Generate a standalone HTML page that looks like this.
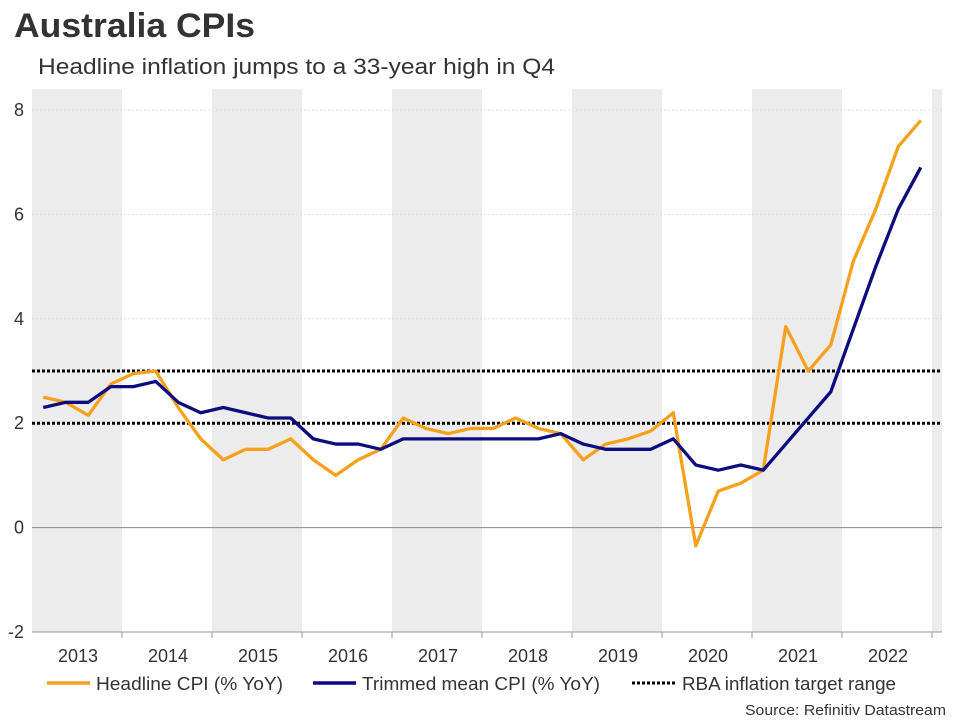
<!DOCTYPE html>
<html><head><meta charset="utf-8"><style>
body{margin:0;background:#fff;font-family:"Liberation Sans",Arial,sans-serif;}
</style></head><body>
<svg width="960" height="720" xmlns="http://www.w3.org/2000/svg" font-family="Liberation Sans, Arial, sans-serif">
<text x="14" y="37" font-size="34" font-weight="bold" fill="#333" textLength="241" lengthAdjust="spacingAndGlyphs">Australia CPIs</text>
<text x="38" y="74" font-size="22.5" fill="#333" textLength="517" lengthAdjust="spacingAndGlyphs">Headline inflation jumps to a 33-year high in Q4</text>
<g id="bands"></g><g id="grid"></g><g id="axes"></g><g id="series"></g>
<g>
<line x1="47" y1="683" x2="90" y2="683" stroke="#f7a01d" stroke-width="3.5"/>
<text x="96" y="690" font-size="18.4" fill="#333" textLength="187" lengthAdjust="spacingAndGlyphs">Headline CPI (% YoY)</text>
<line x1="313" y1="683" x2="356" y2="683" stroke="#0c0c80" stroke-width="3.5"/>
<text x="362" y="690" font-size="18.4" fill="#333" textLength="238" lengthAdjust="spacingAndGlyphs">Trimmed mean CPI (% YoY)</text>
<line x1="632" y1="683" x2="676" y2="683" stroke="#000" stroke-width="3" stroke-dasharray="3,2"/>
<text x="682" y="690" font-size="18.4" fill="#333" textLength="214" lengthAdjust="spacingAndGlyphs">RBA inflation target range</text>
</g>
<text x="745" y="715" font-size="14.5" fill="#333" textLength="201" lengthAdjust="spacingAndGlyphs">Source: Refinitiv Datastream</text>
</svg>
<script>
const years=[2013,2014,2015,2016,2017,2018,2019,2020,2021,2022];
const yTicks=[-2,0,2,4,6,8];
const headline=[2.5,2.4,2.15,2.75,2.95,3.0,2.3,1.7,1.3,1.5,1.5,1.7,1.3,1.0,1.3,1.5,2.1,1.9,1.8,1.9,1.9,2.1,1.9,1.8,1.3,1.6,1.7,1.85,2.2,-0.35,0.7,0.85,1.1,3.85,3.0,3.5,5.1,6.1,7.3,7.8];
const trimmed=[2.3,2.4,2.4,2.7,2.7,2.8,2.4,2.2,2.3,2.2,2.1,2.1,1.7,1.6,1.6,1.5,1.7,1.7,1.7,1.7,1.7,1.7,1.7,1.8,1.6,1.5,1.5,1.5,1.7,1.2,1.1,1.2,1.1,1.6,2.1,2.6,3.8,5.0,6.1,6.9];
const targets=[2,3];
const NS="http://www.w3.org/2000/svg";
const x0=32,yearW=90,xEnd=942;
const X=i=>x0+yearW/4*(i+0.5);
const Y=v=>527.6-v*52.2;
function mk(t,a,p){const e=document.createElementNS(NS,t);for(const k in a)e.setAttribute(k,a[k]);p.appendChild(e);return e;}
const bands=document.getElementById('bands'),grid=document.getElementById('grid'),axes=document.getElementById('axes'),ser=document.getElementById('series');
for(let k=0;k<=years.length;k+=2){const x=x0+k*yearW;const w=Math.min(yearW,xEnd-x);
const r=mk('rect',{x:x,y:Y(8.4),width:w,height:Y(-2)-Y(8.4),fill:'#ececec'},bands);

}
yTicks.forEach(v=>{const l=mk('line',{x1:x0,x2:xEnd,y1:Y(v),y2:Y(v),stroke:v===0?'#888':'#ddd','stroke-width':1,'stroke-dasharray':v===0?'':'2,2'},grid);


const t=mk('text',{x:24,y:Y(v)+6,'font-size':18,fill:'#333','text-anchor':'end'},axes);t.textContent=v;

});
mk('line',{x1:x0,x2:xEnd,y1:Y(-2),y2:Y(-2),stroke:'#999'},axes);
years.forEach((yr,k)=>{const x=x0+k*yearW;
mk('line',{x1:x+yearW,x2:x+yearW,y1:Y(-2),y2:Y(-2)+6,stroke:'#999'},axes);
const t=mk('text',{x:x+yearW/2+1,y:662,'font-size':18,fill:'#333','text-anchor':'middle'},axes);t.textContent=yr;

});
targets.forEach(v=>{const l=mk('line',{x1:x0,x2:xEnd,y1:Y(v),y2:Y(v),stroke:'#000','stroke-width':3,'stroke-dasharray':'3,2'},ser);

});
function line(d,c,n){const p=mk('polyline',{points:d.map((v,i)=>X(i)+','+Y(v)).join(' '),fill:'none',stroke:c,'stroke-width':3.3,'stroke-linejoin':'round'},ser);

}
line(headline,'#f7a01d','headline-cpi-line');
line(trimmed,'#0c0c80','trimmed-mean-line');
</script>
</body></html>
